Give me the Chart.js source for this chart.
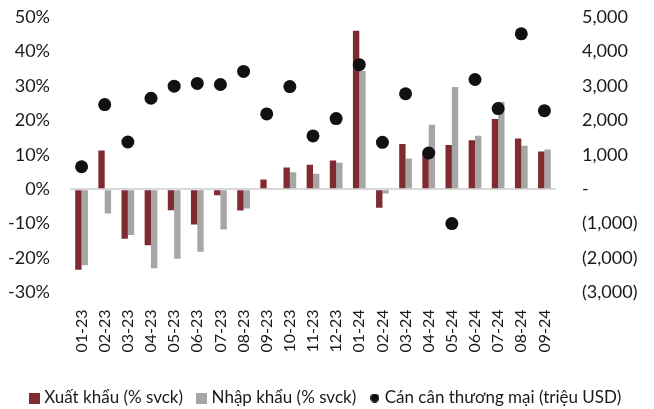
<!DOCTYPE html>
<html>
<head>
  <meta charset="utf-8">
  <title>Xuất nhập khẩu và cán cân thương mại</title>
  <script src="https://cdn.jsdelivr.net/npm/chart.js"></script>
  <style>
    body {
      margin: 0;
      background: #fff;
    }
    .chart-box {
      width: 654px;
      height: 409px;
    }
  </style>
</head>
<body>
  <div class="chart-box">
    <canvas id="tradeChart" width="654" height="409"></canvas>
  </div>

  <script>
    // Months (MM-YY)
    const months = ['01-23', '02-23', '03-23', '04-23', '05-23', '06-23', '07-23', '08-23', '09-23',
      '10-23', '11-23', '12-23', '01-24', '02-24', '03-24', '04-24', '05-24', '06-24', '07-24', '08-24', '09-24'];

    // Export growth, % yoy
    const exportGrowth = [-23.4, 11.2, -14.4, -16.3, -6.1, -10.3, -1.8, -6.2, 2.8, 6.3, 7.1, 8.3,
      46.0, -5.4, 13.1, 10.5, 12.8, 14.2, 20.4, 14.7, 10.9];

    // Import growth, % yoy
    const importGrowth = [-22.1, -7.1, -13.3, -23.0, -20.2, -18.2, -11.7, -5.6, 0.2, 4.9, 4.5, 7.7,
      34.3, -1.3, 8.9, 18.7, 29.7, 15.5, 25.4, 12.6, 11.5];

    // Trade balance, million USD
    const tradeBalance = [650, 2455, 1370, 2640, 2990, 3070, 3040, 3420, 2185, 2980, 1545, 2050,
      3615, 1360, 2770, 1050, -1000, 3185, 2340, 4510, 2280];

    const legendNames = ['Xuất khẩu (% svck)', 'Nhập khẩu (% svck)', 'Cán cân thương mại (triệu USD)'];

    const RED = '#7f2b32';
    const GRAY = '#a6a6a6';
    const DOT = '#111111';
    const TEXT = '#1a1a1a';
    const FONT = 'Lato';

    // small canvases used as legend markers
    function marker(shape, color, size) {
      const c = document.createElement('canvas');
      c.width = size;
      c.height = size;
      const g = c.getContext('2d');
      g.fillStyle = color;
      if (shape === 'circle') {
        g.beginPath();
        g.arc(size / 2, size / 2, size / 2, 0, Math.PI * 2);
        g.fill();
      } else {
        g.fillRect(0, 0, size, size);
      }
      return c;
    }
    const legendMarks = [marker('rect', RED, 11), marker('rect', GRAY, 11), marker('circle', DOT, 9)];

    function fmtBalance(v) {
      if (v === 0) return '-';
      const s = Math.abs(v).toLocaleString('en-US');
      return v < 0 ? '(' + s + ')' : s;
    }

    // tick padding would otherwise also be added above/below the plot
    function fixVertical(width) {
      return scale => {
        scale.width = width;
        scale.paddingTop = 0;
        scale.paddingBottom = 0;
      };
    }

    const ctx = document.getElementById('tradeChart').getContext('2d');
    const tradeChart = new Chart(ctx, {
      data: {
        labels: months,
        datasets: [
          {
            type: 'bar',
            label: legendNames[0],
            data: exportGrowth,
            backgroundColor: RED,
            yAxisID: 'y',
            categoryPercentage: 0.55,
            barPercentage: 1.0,
            order: 1
          },
          {
            type: 'bar',
            label: legendNames[1],
            data: importGrowth,
            backgroundColor: GRAY,
            yAxisID: 'y',
            categoryPercentage: 0.55,
            barPercentage: 1.0,
            order: 1
          },
          {
            type: 'line',
            label: legendNames[2],
            data: tradeBalance,
            showLine: false,
            pointRadius: 6.5,
            pointHoverRadius: 6.5,
            pointBackgroundColor: DOT,
            pointBorderWidth: 0,
            borderColor: DOT,
            yAxisID: 'y1',
            order: 0
          }
        ]
      },
      options: {
        responsive: false,
        animation: false,
        layout: {
          padding: { top: 17, bottom: -7.5, left: 0, right: 0 }
        },
        plugins: {
          tooltip: { enabled: false },
          legend: {
            position: 'bottom',
            labels: {
              usePointStyle: true,
              boxWidth: 3,
              boxHeight: 11,
              padding: 17,
              color: TEXT,
              font: { family: FONT, size: 17 },
              generateLabels: chart => legendNames.map((name, i) => ({
                text: name,
                pointStyle: legendMarks[i],
                fillStyle: 'transparent',
                strokeStyle: 'transparent',
                lineWidth: 0,
                fontColor: TEXT,
                datasetIndex: i,
                hidden: false
              }))
            }
          }
        },
        scales: {
          x: {
            grid: { display: false, drawTicks: false },
            border: { display: false },
            ticks: {
              minRotation: 90,
              maxRotation: 90,
              padding: 17,
              color: TEXT,
              font: { family: FONT, size: 16 }
            },
            afterFit: scale => { scale.height = scale.height + 3; }
          },
          y: {
            position: 'left',
            min: -30,
            max: 50,
            border: { display: false },
            grid: {
              drawTicks: false,
              color: c => c.tick && c.tick.value === 0 ? '#d9d9d9' : 'transparent',
              lineWidth: c => c.tick && c.tick.value === 0 ? 2 : 0
            },
            ticks: {
              stepSize: 10,
              padding: 20,
              color: TEXT,
              font: { family: FONT, size: 18 },
              callback: v => v + '%'
            },
            afterFit: fixVertical(70)
          },
          y1: {
            position: 'right',
            min: -3000,
            max: 5000,
            border: { display: false },
            grid: { display: false, drawTicks: false },
            ticks: {
              stepSize: 1000,
              padding: 26,
              color: TEXT,
              font: { family: FONT, size: 18 },
              callback: v => fmtBalance(v)
            },
            afterFit: fixVertical(98)
          }
        }
      }
    });
  </script>
</body>
</html>
